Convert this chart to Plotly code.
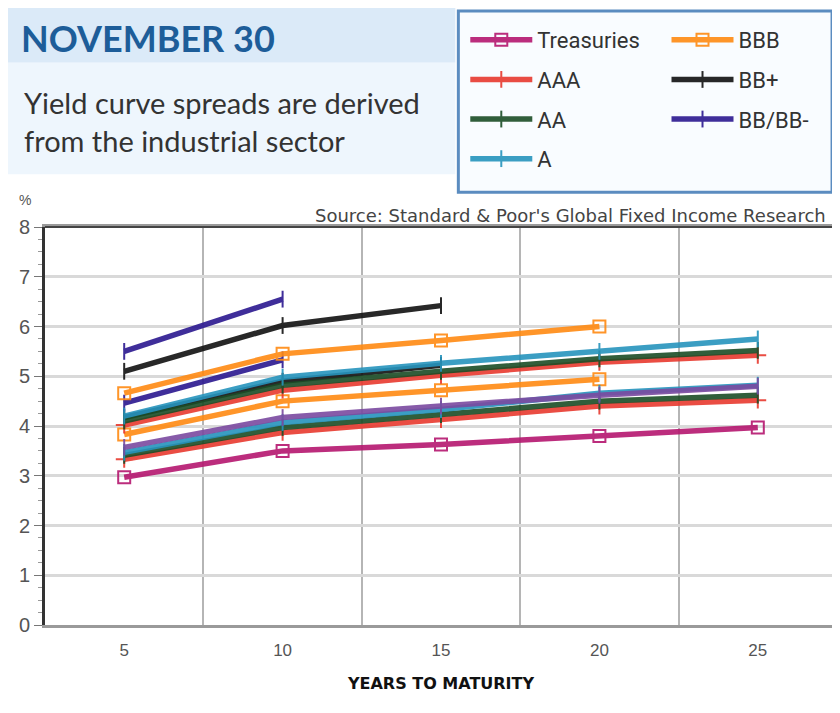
import plotly.graph_objects as go

# years to maturity
years = [5, 10, 15, 20, 25]

# yield curves, upper group (%)
treasuries = [2.97, 3.5, 3.63, 3.8, 3.97]
aaa_hi = [4.02, 4.72, 5.02, 5.28, 5.42]
aa_hi = [4.1, 4.82, 5.1, 5.35, 5.52]
a_hi = [4.2, 4.98, 5.26, 5.5, 5.75]
bbb_hi = [4.66, 5.45, 5.72, 6.0]
bbp_hi = [5.1, 6.02, 6.42]
bbm_hi = [5.5, 6.55]

# lower group (%)
aaa_lo = [3.33, 3.87, 4.13, 4.4, 4.52]
aa_lo = [3.41, 3.97, 4.23, 4.5, 4.62]
a_lo = [3.47, 4.07, 4.33, 4.66, 4.82]
mix_lo = [3.57, 4.17, 4.4, 4.62, 4.8]
bbb_lo = [3.83, 4.5, 4.72, 4.94]
bbp_lo = [4.17, 4.9, 5.22]
bbm_lo = [4.46, 5.33]

x_ticks = [5, 10, 15, 20, 25]
y_ticks = [0, 1, 2, 3, 4, 5, 6, 7, 8]

series = [
    # name, values, colour, symbol, legend
    ("Treasuries", treasuries, "#b5176f", "square-open", "legend"),
    ("AAA", aaa_hi, "#e83a2f", "cross-thin-open", "legend"),
    ("AA", aa_hi, "#1b4d26", "line-ns-open", "legend"),
    ("A", a_hi, "#2694bd", "line-ns-open", "legend"),
    ("BBB", bbb_hi, "#ff8a12", "square-open", "legend2"),
    ("BB+", bbp_hi, "#111111", "line-ns-open", "legend2"),
    ("BB/BB-", bbm_hi, "#2b1890", "line-ns-open", "legend2"),
]
lower = [
    ("BBB", bbb_lo, "#ff8a12", "square-open"),
    ("BB+", bbp_lo, "#111111", "line-ns-open"),
    ("BB/BB-", bbm_lo, "#2b1890", "line-ns-open"),
    ("AAA", aaa_lo, "#e83a2f", "cross-thin-open"),
    ("AA", aa_lo, "#1b4d26", "line-ns-open"),
    ("A", a_lo, "#2694bd", "line-ns-open"),
    ("", mix_lo, "#7b4aa0", "line-ns-open"),
]

# page offset of the figure and plot box (px)
OFF_X, OFF_Y = 8, 8
L, R, T, B = 30, 11, 217, 96
PW, PH = 840 - L - R, 713 - T - B


def px_x(x):
    return (x - OFF_X - L) / PW


def px_y(y):
    return 1 - (y - OFF_Y - T) / PH


fig = go.Figure()

for name, vals, col, sym in lower:
    fig.add_trace(go.Scatter(
        x=years[:len(vals)], y=vals, mode="lines+markers", showlegend=False,
        line=dict(color=col, width=5.5),
        marker=dict(symbol=sym, size=12, color=col, line=dict(color=col, width=2)),
        opacity=0.9, hoverinfo="skip"
    ))

for name, vals, col, sym, leg in series:
    fig.add_trace(go.Scatter(
        x=years[:len(vals)], y=vals, mode="lines+markers", name=name,
        legend=leg, legendgroup=name,
        line=dict(color=col, width=5.5),
        marker=dict(symbol=sym, size=12, color=col, line=dict(color=col, width=2)),
        opacity=0.9
    ))

leg_style = dict(
    font=dict(family="Roboto, Liberation Sans", size=22, color="#333"),
    bgcolor="rgba(0,0,0,0)", itemwidth=62, tracegroupgap=8,
    xanchor="left", yanchor="top", yref="paper",
)

fig.update_layout(
    width=840, height=713,
    paper_bgcolor="white", plot_bgcolor="white",
    margin=dict(l=L, r=R, t=T, b=B),
    font=dict(family="Liberation Sans, Arial", color="#555"),
    legend=dict(x=px_x(462), y=px_y(16), **leg_style),
    legend2=dict(x=px_x(665), y=px_y(16), **leg_style),
    xaxis=dict(
        range=[2.5, 27.5], tickvals=x_ticks, showgrid=False,
        ticks="", tickfont=dict(size=17, color="#555"), ticklabelstandoff=8,
        showline=True, linecolor="#9a9a9a", linewidth=3, mirror=True,
        minor=dict(tickvals=[7.5, 12.5, 17.5, 22.5], showgrid=True,
                   gridcolor="#b5b5b5", gridwidth=2),
        title=dict(text="<b>YEARS TO MATURITY</b>",
                   font=dict(family="DejaVu Sans, Arial", size=16, color="#111"),
                   standoff=19),
        zeroline=False,
    ),
    yaxis=dict(
        range=[0, 8], tickvals=y_ticks, showgrid=True,
        gridcolor="#d9d9d9", gridwidth=3,
        ticks="outside", ticklen=8, tickcolor="#777",
        tickfont=dict(size=20, color="#555"),
        showline=True, linecolor="#333", linewidth=3,
        minor=dict(dtick=0.25, ticks="outside", ticklen=4, tickcolor="#999"),
        zeroline=False,
    ),
    shapes=[
        # header bands
        dict(type="rect", xref="paper", yref="paper", x0=px_x(0), x1=px_x(452),
             y0=px_y(60), y1=px_y(4), fillcolor="#dbeaf8", line_width=0, layer="below"),
        dict(type="rect", xref="paper", yref="paper", x0=px_x(0), x1=px_x(452),
             y0=px_y(172), y1=px_y(60), fillcolor="#eef6fd", line_width=0, layer="below"),
        # legend box
        dict(type="rect", xref="paper", yref="paper", x0=px_x(455), x1=px_x(832),
             y0=px_y(190), y1=px_y(8), fillcolor="#f9fcff",
             line=dict(color="#5b8cc0", width=3), layer="below"),
        # dark top frame of the plot
        dict(type="line", xref="paper", yref="paper", x0=0, x1=1, y0=1, y1=1,
             line=dict(color="#444", width=2)),
    ],
    annotations=[
        dict(text="<b>NOVEMBER 30</b>", xref="paper", yref="paper",
             x=px_x(12), y=px_y(35), xanchor="left", yanchor="middle", showarrow=False,
             font=dict(family="Lato, Open Sans", size=36, color="#1d5d99")),
        dict(text="Yield curve spreads are derived<br>from the industrial sector",
             xref="paper", yref="paper", x=px_x(15), y=px_y(119), xanchor="left",
             yanchor="middle", align="left", showarrow=False,
             font=dict(family="Lato, Open Sans", size=29, color="#333")),
        dict(text="%", xref="paper", yref="paper", x=px_x(18), y=px_y(198),
             xanchor="center", yanchor="middle", showarrow=False,
             font=dict(size=14, color="#555")),
        dict(text="Source: Standard &amp; Poor's Global Fixed Income Research",
             xref="paper", yref="paper", x=px_x(828), y=px_y(213), xanchor="right",
             yanchor="middle", showarrow=False,
             font=dict(family="DejaVu Sans, Arial", size=18, color="#444")),
    ],
)

fig.write_html("out.html")
